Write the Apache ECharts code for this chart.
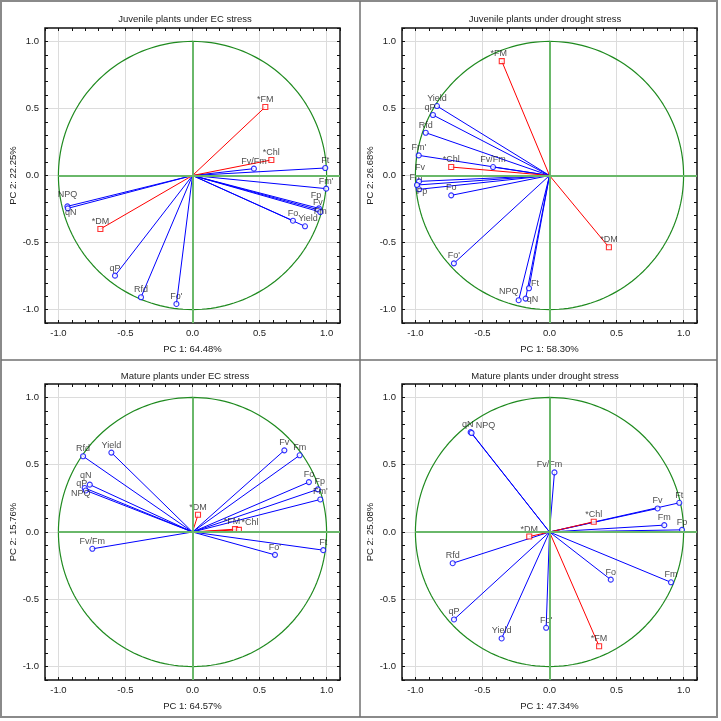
<!DOCTYPE html>
<html lang="en">
<head>
<meta charset="UTF-8">
<title>PCA loadings</title>
<script src="https://cdn.jsdelivr.net/npm/echarts@6/dist/echarts.min.js"></script>
<style>html,body{margin:0;padding:0;background:#fff;}</style>
</head>
<body>
<div id="container" style="width:721px;height:721px"></div>
<script>
// panel texts
var titles = ['Juvenile plants under EC stress', 'Juvenile plants under drought stress',
    'Mature plants under EC stress', 'Mature plants under drought stress'];
var pc1Names = ['PC 1: 64.48%', 'PC 1: 58.30%', 'PC 1: 64.57%', 'PC 1: 47.34%'];
var pc2Names = ['PC 2: 22.25%', 'PC 2: 26.68%', 'PC 2: 15.76%', 'PC 2: 25.08%'];

// juvenile, EC stress
var juvEcVars = ['Fv/Fm', 'Ft', "Fm'", 'Fp', 'Fv', 'Fm', 'Fo', 'Yield', 'NPQ', 'qN', 'qP', 'Rfd', "Fo'"];
var juvEcPc1 = [0.458, 0.990, 0.997, 0.943, 0.935, 0.953, 0.749, 0.839, -0.933, -0.930, -0.578, -0.384, -0.120];
var juvEcPc2 = [0.051, 0.056, -0.098, -0.245, -0.255, -0.272, -0.337, -0.379, -0.230, -0.245, -0.747, -0.908, -0.958];
var juvEcSupp = ['*FM', '*Chl', '*DM'];
var juvEcSuppPc1 = [0.543, 0.588, -0.687];
var juvEcSuppPc2 = [0.511, 0.116, -0.399];

// juvenile, drought stress
var juvDrVars = ['Yield', 'qP', 'Rfd', "Fm'", 'Fv/Fm', 'Fv', 'Fm', 'Fp', 'Fo', "Fo'", 'NPQ', 'qN', 'Ft'];
var juvDrPc1 = [-0.839, -0.869, -0.923, -0.975, -0.421, -0.973, -0.988, -0.973, -0.733, -0.713, -0.230, -0.178, -0.153];
var juvDrPc2 = [0.518, 0.451, 0.319, 0.150, 0.063, -0.044, -0.071, -0.103, -0.148, -0.655, -0.930, -0.918, -0.841];
var juvDrSupp = ['*FM', '*Chl', '*DM'];
var juvDrSuppPc1 = [-0.356, -0.733, 0.443];
var juvDrSuppPc2 = [0.853, 0.063, -0.535];

// mature, EC stress
var matEcVars = ['Rfd', 'Yield', 'qN', 'qP', 'NPQ', 'Fv/Fm', 'Fv', 'Fm', 'Fo', 'Fp', "Fm'", "Fo'", 'Ft'];
var matEcPc1 = [-0.816, -0.605, -0.766, -0.804, -0.796, -0.747, 0.685, 0.799, 0.868, 0.935, 0.953, 0.615, 0.975];
var matEcPc2 = [0.563, 0.590, 0.352, 0.327, 0.309, -0.125, 0.607, 0.570, 0.371, 0.317, 0.242, -0.170, -0.135];
var matEcSupp = ['*DM', '*FM', '*Chl'];
var matEcSuppPc1 = [0.041, 0.317, 0.346];
var matEcSuppPc2 = [0.128, 0.021, 0.016];

// mature, drought stress
var matDrVars = ['qN', 'NPQ', 'Fv/Fm', 'Ft', 'Fv', 'Fm', 'Fp', 'Rfd', 'Fo', 'Fm', 'qP', 'Yield', "Fo'"];
var matDrPc1 = [-0.588, -0.581, 0.037, 0.968, 0.806, 0.856, 0.988, -0.722, 0.457, 0.906, -0.712, -0.357, -0.025];
var matDrPc2 = [0.742, 0.736, 0.443, 0.217, 0.175, 0.051, 0.016, -0.232, -0.354, -0.374, -0.650, -0.791, -0.712];
var matDrSupp = ['*Chl', '*DM', '*FM'];
var matDrSuppPc1 = [0.330, -0.151, 0.370];
var matDrSuppPc2 = [0.076, -0.034, -0.849];

var panels = [
    {vars: juvEcVars, x: juvEcPc1, y: juvEcPc2, supp: juvEcSupp, sx: juvEcSuppPc1, sy: juvEcSuppPc2},
    {vars: juvDrVars, x: juvDrPc1, y: juvDrPc2, supp: juvDrSupp, sx: juvDrSuppPc1, sy: juvDrSuppPc2},
    {vars: matEcVars, x: matEcPc1, y: matEcPc2, supp: matEcSupp, sx: matEcSuppPc1, sy: matEcSuppPc2},
    {vars: matDrVars, x: matDrPc1, y: matDrPc2, supp: matDrSupp, sx: matDrSuppPc1, sy: matDrSuppPc2}
];

// label placement tweaks (style only)
var labelTweaks = [
    {'Fp': ['top', -3, -5], 'Fm': ['top', 0, 7], 'NPQ': ['top', 0, -4], 'qN': ['bottom', 3, -3], 'Yield': ['top', 3, 0]},
    {'Fv': ['top', 1, -6], 'Fm': ['top', -1, 0], 'Fp': ['bottom', 3, -5], 'NPQ': ['top', -10, -1],
        'qN': ['right', -2, 1], 'Ft': ['right', -1, -5], '*FM': ['top', -3, 0], 'qP': ['top', -3, 0]},
    {'*Chl': ['top', 11, 0], '*FM': ['top', -3, 0], 'qN': ['top', -4, -2], 'qP': ['top', -3, 3],
        'NPQ': ['top', -5, 11], 'Fp': ['top', 2, 0]},
    {'qN': ['top', -3, 0], 'NPQ': ['top', 14, 0], 'Fv/Fm': ['top', -5, 0]}
];

var fontFamily = '"Liberation Sans", Arial, sans-serif';
var textColor = '#222';
var blue = '#0000ff';
var red = '#ff0000';
var circleColor = '#1f8a1f';
var zeroColor = '#6ab86a';
var gridColor = '#dcdcdc';
var clear = 'rgba(0,0,0,0)';

var grids = [
    {left: 45, top: 28, width: 295, height: 295},
    {left: 402, top: 28, width: 295, height: 295},
    {left: 45, top: 384, width: 295, height: 296},
    {left: 402, top: 384, width: 295, height: 296}
];
var titleTops = [9, 9, 366, 366];
var titleLefts = [180, 540, 180, 540];

function tickLabel(v) {
    var h = v * 2;
    if (Math.abs(h - Math.round(h)) > 1e-6 || Math.abs(v) > 1.05) return '';
    return v.toFixed(1);
}

// ticks run from -1.1 by 0.1; grid lines only at -1, -0.5, 0, 0.5, 1 (tick index % 5 == 1)
var splitColors = [clear, gridColor, clear, clear, clear];

// unit correlation circle
var circle = [];
for (var a = 0; a <= 360; a += 2) {
    circle.push([Math.cos(a * Math.PI / 180), Math.sin(a * Math.PI / 180)]);
}

var xAxes = [], yAxes = [], series = [], titleList = [];
grids.forEach(function (g, i) {
    g.show = true;
    g.borderColor = '#111';
    g.borderWidth = 1.5;
    g.backgroundColor = 'transparent';
    titleList.push({
        text: titles[i], left: titleLefts[i], top: titleTops[i], textAlign: 'center',
        textStyle: {fontSize: 9.5, fontWeight: 'normal', color: textColor, fontFamily: fontFamily}
    });
    var base = {
        gridIndex: i, type: 'value', min: -1.1, max: 1.1, interval: 0.1,
        axisLine: {show: false, onZero: false},
        axisTick: {show: true, inside: true, length: 3, lineStyle: {color: '#111'}}
    };
    xAxes.push(Object.assign({}, base, {
        position: 'bottom',
        name: pc1Names[i], nameLocation: 'middle', nameGap: 21,
        nameTextStyle: {fontSize: 9.5, color: textColor, fontFamily: fontFamily},
        axisLabel: {formatter: tickLabel, margin: 5, fontSize: 9.5, color: textColor, fontFamily: fontFamily},
        splitLine: {show: true, lineStyle: {color: splitColors, width: 1}}
    }));
    xAxes.push(Object.assign({}, base, {position: 'top', axisLabel: {show: false}, splitLine: {show: false}}));
    yAxes.push(Object.assign({}, base, {
        position: 'left',
        name: pc2Names[i], nameLocation: 'middle', nameGap: 25,
        nameTextStyle: {fontSize: 9.5, color: textColor, fontFamily: fontFamily},
        axisLabel: {formatter: tickLabel, margin: 6, fontSize: 9.5, color: textColor, fontFamily: fontFamily},
        splitLine: {show: true, lineStyle: {color: splitColors, width: 1}}
    }));
    yAxes.push(Object.assign({}, base, {position: 'right', axisLabel: {show: false}, splitLine: {show: false}}));

    var xi = 2 * i, yi = 2 * i;
    var p = panels[i];

    series.push({
        type: 'line', xAxisIndex: xi, yAxisIndex: yi, data: circle, showSymbol: false,
        silent: true, z: 2, lineStyle: {color: circleColor, width: 1.2},
        markLine: {
            silent: true, symbol: 'none', label: {show: false},
            lineStyle: {color: zeroColor, width: 2, type: 'solid'},
            data: [
                [{coord: [-1, 0]}, {coord: [1.1, 0]}],
                [{coord: [0, 1]}, {coord: [0, -1.1]}]
            ]
        }
    });

    function vectors(xs, ys, color) {
        return {
            type: 'lines', coordinateSystem: 'cartesian2d', xAxisIndex: xi, yAxisIndex: yi,
            silent: true, z: 3,
            lineStyle: {color: color, width: 1, opacity: 1, curveness: 0},
            data: xs.map(function (x, k) { return {coords: [[0, 0], [x, ys[k]]]}; })
        };
    }

    function points(names, xs, ys, color, symbol) {
        var tw = labelTweaks[i];
        return {
            type: 'scatter', xAxisIndex: xi, yAxisIndex: yi, z: 4, silent: true,
            symbol: symbol, symbolSize: 5,
            itemStyle: {color: '#fff', borderColor: color, borderWidth: 1.1},
            label: {
                show: true, formatter: '{b}', position: 'top', distance: 0,
                fontSize: 9, color: textColor, fontFamily: fontFamily
            },
            data: names.map(function (n, k) {
                var item = {name: n, value: [xs[k], ys[k]]};
                if (tw[n]) {
                    item.label = {position: tw[n][0], offset: [tw[n][1], tw[n][2]]};
                }
                return item;
            })
        };
    }

    series.push(vectors(p.x, p.y, blue));
    series.push(vectors(p.sx, p.sy, red));
    series.push(points(p.vars, p.x, p.y, blue, 'circle'));
    series.push(points(p.supp, p.sx, p.sy, red, 'rect'));
});

var option = {
    animation: false,
    backgroundColor: '#fff',
    title: titleList,
    grid: grids,
    xAxis: xAxes,
    yAxis: yAxes,
    series: series,
    graphic: [
        {type: 'rect', silent: true, shape: {x: 1, y: 1, width: 716, height: 716},
            style: {fill: 'none', stroke: '#8a8a8a', lineWidth: 2}},
        {type: 'line', silent: true, shape: {x1: 360, y1: 1, x2: 360, y2: 717},
            style: {stroke: '#707070', lineWidth: 1.5}},
        {type: 'line', silent: true, shape: {x1: 1, y1: 360, x2: 717, y2: 360},
            style: {stroke: '#707070', lineWidth: 1.5}}
    ]
};

var myChart = echarts.init(document.getElementById('container'));
myChart.setOption(option);
</script>
</body>
</html>
